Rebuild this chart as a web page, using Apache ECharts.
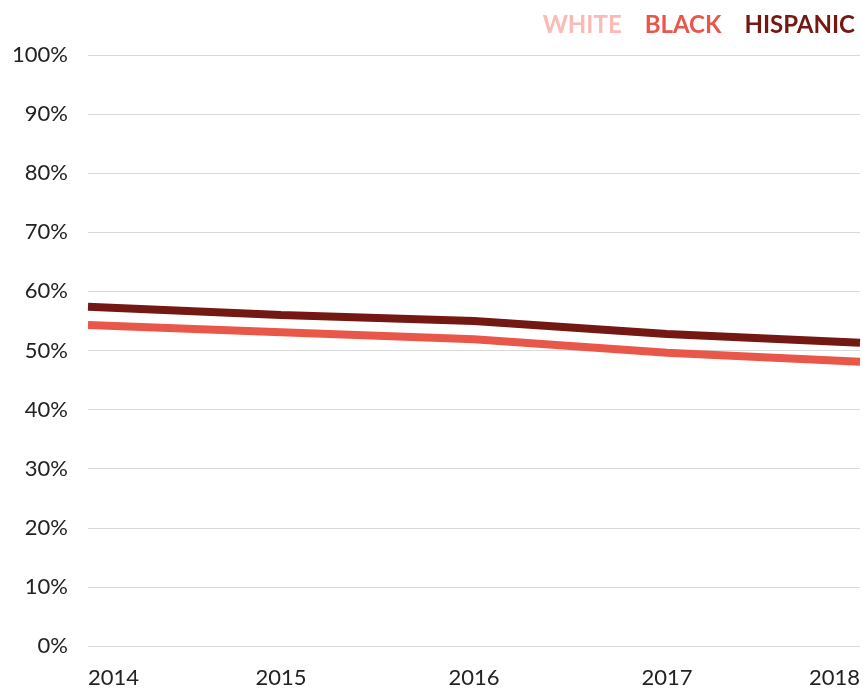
<!DOCTYPE html>
<html>
<head>
<meta charset="utf-8">
<script src="https://cdn.jsdelivr.net/npm/echarts@6/dist/echarts.min.js"></script>
<style>
  html, body { margin: 0; padding: 0; background: #fff; }
  #chart { width: 863px; height: 692px; }
</style>
</head>
<body>
<div id="chart"></div>
<script>
// data
const years = ['2014', '2015', '2016', '2017', '2018']
const whiteValues = [null, null, null, null, null]
const blackValues = [54.3, 53.1, 51.9, 49.6, 48.1]
const hispanicValues = [57.4, 56.0, 55.0, 52.8, 51.3]
const yTicks = [0, 10, 20, 30, 40, 50, 60, 70, 80, 90, 100]

const colors = { white: '#FBBAB6', black: '#E9574A', hispanic: '#731812' }

const chart = echarts.init(document.getElementById('chart'))

const mkSeries = (name, data, color) => ({
  name,
  type: 'line',
  data,
  symbol: 'none',
  lineStyle: { color, width: 8 },
  itemStyle: { color },
  emphasis: { disabled: true }
})

const option = {
  animation: false,
  textStyle: { fontFamily: 'Lato, "Noto Sans", sans-serif' },
  legend: {
    top: 8,
    right: 3,
    itemWidth: 0,
    itemHeight: 0,
    itemGap: 18,
    icon: 'none',
    selectedMode: false,
    textStyle: { fontSize: 24, fontWeight: 'bold', padding: 0 },
    data: [
      { name: 'WHITE', textStyle: { color: colors.white } },
      { name: 'BLACK', textStyle: { color: colors.black } },
      { name: 'HISPANIC', textStyle: { color: colors.hispanic } }
    ]
  },
  grid: { left: 88, right: 3, top: 55, bottom: 46 },
  xAxis: {
    type: 'category',
    boundaryGap: false,
    data: years,
    axisLine: { show: false },
    axisTick: { show: false },
    axisLabel: {
      color: '#222',
      fontSize: 22,
      margin: 21,
      alignMinLabel: 'left',
      alignMaxLabel: 'right'
    }
  },
  yAxis: {
    type: 'value',
    min: yTicks[0],
    max: yTicks[yTicks.length - 1],
    interval: 10,
    axisLine: { show: false },
    axisTick: { show: false },
    splitLine: { lineStyle: { color: '#d9d9d9', width: 1 } },
    axisLabel: { color: '#222', fontSize: 22, margin: 20, formatter: '{value}%' }
  },
  series: [
    mkSeries('WHITE', whiteValues, colors.white),
    mkSeries('BLACK', blackValues, colors.black),
    mkSeries('HISPANIC', hispanicValues, colors.hispanic)
  ]
}

chart.setOption(option)
</script>
</body>
</html>
